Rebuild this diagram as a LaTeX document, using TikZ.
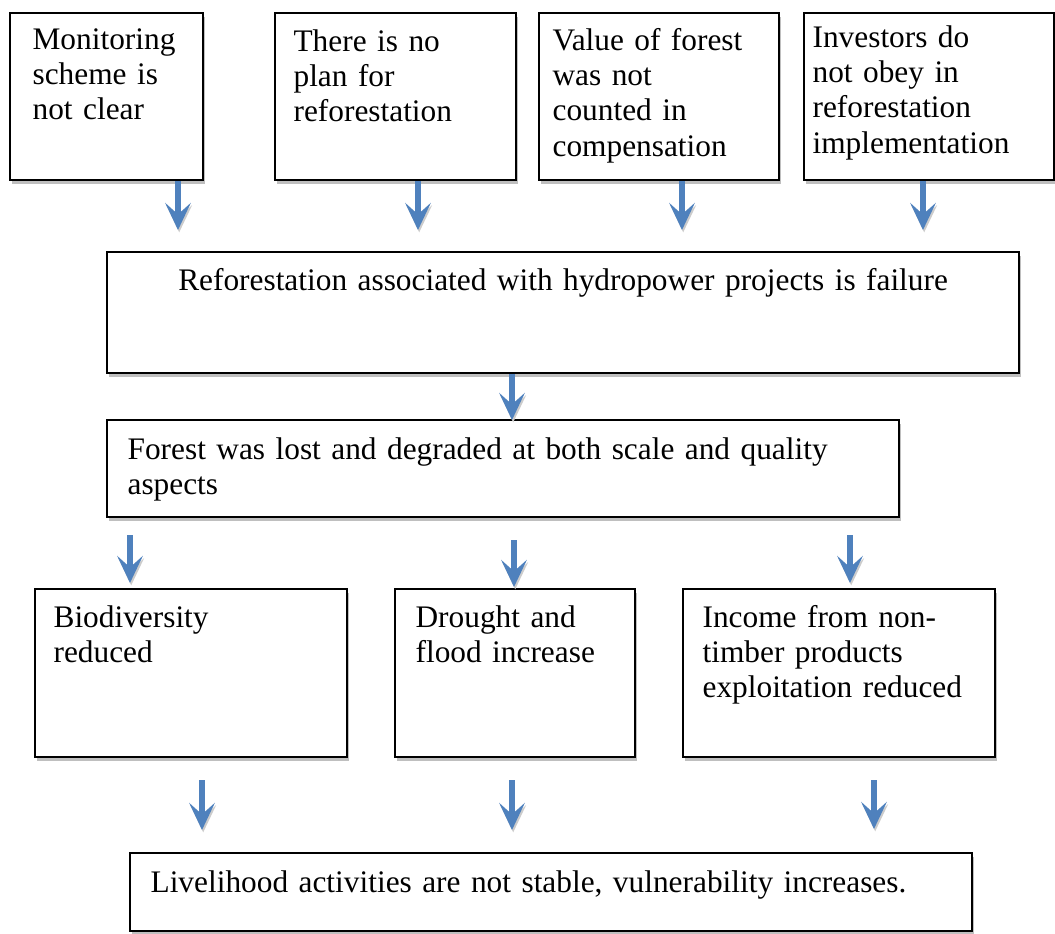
\documentclass[tikz,border=0pt]{standalone}
\usepackage{fontspec}
\setmainfont{Liberation Serif}
\usetikzlibrary{arrows.meta,shadows}

\definecolor{arrowblue}{HTML}{4F81BD}

\tikzset{
  box/.style={draw, line width=0.7pt, fill=white, anchor=north west, inner sep=0pt,
    drop shadow={shadow xshift=0.6pt, shadow yshift=-1.3pt, fill=black!25, opacity=1}},
  txt/.style={anchor=base west, inner sep=0pt, text width=300pt, align=left,
    font=\fontsize{10.45}{11.8}\selectfont},
  flow/.style={draw=arrowblue, line width=2pt, -{Stealth[length=9pt, width=8.5pt, inset=3.8pt]},
    preaction={draw=black!20, transform canvas={shift={(0.4pt,-0.8pt)}}}}
}

\begin{document}
\begin{tikzpicture}[x=0.3333pt, y=-0.3333pt]
  \useasboundingbox (0,0) rectangle (1055,933);

  % causes
  \node[box, minimum width=64.33pt, minimum height=55.67pt,
    label={[txt, xshift=7.67pt, yshift=-12.33pt]north west:{Monitoring\\scheme is\\not clear}}] (monitor) at (9,12) {};
  \node[box, minimum width=80.33pt, minimum height=55.67pt,
    label={[txt, xshift=6.33pt, yshift=-13pt]north west:{There is no\\plan for\\reforestation}}] (plan) at (274,12) {};
  \node[box, minimum width=80pt, minimum height=55.67pt,
    label={[txt, xshift=4.67pt, yshift=-12.67pt]north west:{Value of forest\\was not\\counted in\\compensation}}] (value) at (538,12) {};
  \node[box, minimum width=83.33pt, minimum height=55.67pt,
    label={[txt, xshift=3pt, yshift=-11.67pt]north west:{Investors do\\not obey in\\reforestation\\implementation}}] (investor) at (803,12) {};

  % core problem
  \node[box, minimum width=304pt, minimum height=40.33pt,
    label={[txt, anchor=base, align=center, yshift=-13pt]north:{Reforestation associated with hydropower projects is failure}}] (failure) at (106,251) {};
  \node[box, minimum width=264pt, minimum height=32.33pt,
    label={[txt, xshift=7pt, yshift=-13.33pt]north west:{Forest was lost and degraded at both scale and quality\\aspects}}] (forest) at (106,419) {};

  % effects
  \node[box, minimum width=104pt, minimum height=56pt,
    label={[txt, xshift=6.33pt, yshift=-13pt]north west:{Biodiversity\\reduced}}] (biodiv) at (34,588) {};
  \node[box, minimum width=80pt, minimum height=56pt,
    label={[txt, xshift=7pt, yshift=-13pt]north west:{Drought and\\flood increase}}] (drought) at (394,588) {};
  \node[box, minimum width=104pt, minimum height=56pt,
    label={[txt, xshift=6.67pt, yshift=-13pt]north west:{Income from non-\\timber products\\exploitation reduced}}] (income) at (682,588) {};

  \node[box, minimum width=280.67pt, minimum height=26pt,
    label={[txt, xshift=7pt, yshift=-13.33pt]north west:{Livelihood activities are not stable, vulnerability increases.}}] (livelihood) at (129,852) {};

  % arrows
  \foreach \n/\x/\ya/\yb in {1/178/181/230, 2/418/181/230, 3/682/181/230, 4/923/181/230,
      5/512/374/420, 6/130/535/583, 7/514/540/587, 8/850/535/583,
      9/202/780/830, 10/512/780/830, 11/874/780/829} {
    \coordinate (s\n) at (\x,\ya);
    \coordinate (e\n) at (\x,\yb);
  }
  \foreach \n in {1,...,11}
    \draw[flow] (s\n) -- (e\n);

\end{tikzpicture}
\end{document}
